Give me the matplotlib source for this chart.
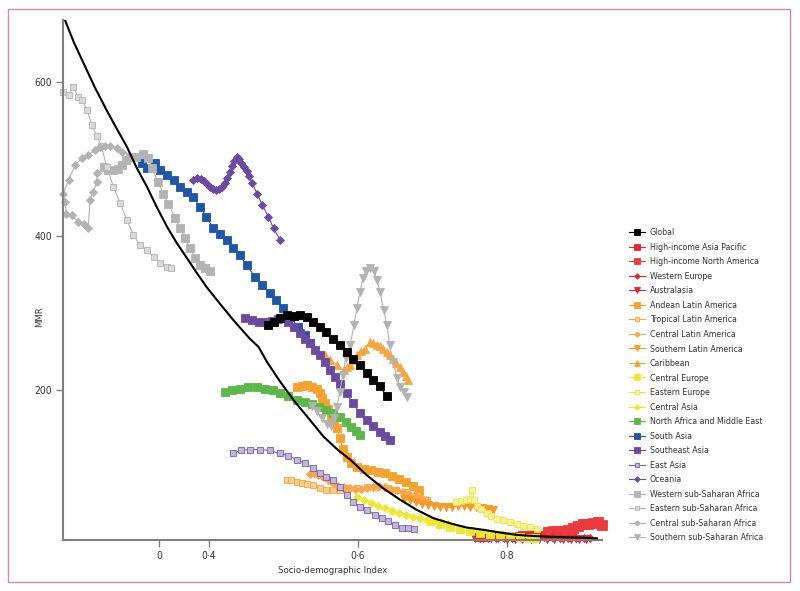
import matplotlib
matplotlib.use("Agg")
import matplotlib.pyplot as plt
from matplotlib.patches import Rectangle

plt.rcParams["font.family"] = ["DejaVu Sans"]
plt.rcParams["font.stretch"] = "condensed"

# expected MMR for a given SDI (black curve)
curve_sdi = [0.207, 0.219, 0.232, 0.247, 0.263, 0.276, 0.290, 0.303, 0.317, 0.330, 0.344,
             0.357, 0.371, 0.384, 0.397, 0.411, 0.422, 0.433, 0.444, 0.455, 0.467, 0.478,
             0.496, 0.514, 0.532, 0.554, 0.574, 0.590, 0.612, 0.634, 0.657, 0.679, 0.702,
             0.724, 0.746, 0.769, 0.791, 0.813, 0.836, 0.858, 0.881, 0.903, 0.921]
curve_mmr = [680, 651, 624, 593, 563, 540, 516, 489, 464, 438, 412,
             391, 371, 352, 334, 317, 304, 291, 279, 267, 256, 237,
             211, 187, 166, 140, 122, 110, 90, 73, 58, 45, 34,
             27.5, 22, 19, 15.5, 12.5, 11, 10, 9.3, 8.8, 8]

# regional trajectories, 1990-2015
global_sdi = [0.480, 0.487, 0.496, 0.505, 0.514, 0.523, 0.532, 0.540, 0.549, 0.558, 0.567,
              0.576, 0.585, 0.594, 0.603, 0.612, 0.621, 0.630, 0.639]
global_mmr = [284, 288, 293, 297, 296, 297, 295, 289, 282, 276, 267,
              259, 250, 241, 233, 222, 213, 205, 192]

hiap_sdi = [0.762, 0.771, 0.781, 0.792, 0.801, 0.811, 0.820, 0.830, 0.839, 0.849, 0.858,
            0.868, 0.877, 0.886]
hiap_mmr = [10, 10, 10.5, 11, 11, 11.5, 12, 12, 12.5, 12.5, 13, 13, 12.5, 12]

hina_sdi = [0.855, 0.862, 0.869, 0.876, 0.882, 0.889, 0.896, 0.902, 0.909, 0.916, 0.922, 0.928]
hina_mmr = [16, 17.5, 17.5, 17.5, 19, 21.5, 24, 26, 27, 28.5, 29, 25]

weur_sdi = [0.764, 0.775, 0.786, 0.796, 0.807, 0.818, 0.829, 0.839, 0.850, 0.861, 0.872,
            0.882, 0.893, 0.904, 0.912]
weur_mmr = [8.5, 8.5, 8.5, 9, 9, 9.5, 9.5, 9.5, 9.5, 9.5, 9, 9, 8.5, 8.5, 8.5]

aus_sdi = [0.757, 0.768, 0.779, 0.789, 0.800, 0.811, 0.821, 0.832, 0.843, 0.854, 0.864,
           0.875, 0.886, 0.897, 0.907]
aus_mmr = [8, 8, 8, 8, 7.5, 7.5, 7.5, 7.5, 7.5, 7.5, 7.5, 7.5, 7, 7, 7]

andean_sdi = [0.518, 0.525, 0.532, 0.538, 0.545, 0.549, 0.552, 0.556, 0.560, 0.564, 0.568,
              0.572, 0.576, 0.580, 0.586, 0.591, 0.599, 0.609, 0.618, 0.627, 0.637, 0.646,
              0.656, 0.665, 0.674, 0.682]
andean_mmr = [204, 205, 207, 204, 202, 196, 190, 183, 176, 167, 157,
              151, 138, 124, 113, 106, 100, 98, 96, 94, 93, 89,
              85, 81, 76, 71]

tropical_sdi = [0.505, 0.511, 0.518, 0.525, 0.532, 0.540, 0.549, 0.558, 0.567, 0.576, 0.585,
                0.599, 0.612, 0.626, 0.639, 0.652, 0.666, 0.679, 0.693]
tropical_mmr = [84, 83, 81, 80, 79, 77, 73, 71, 71, 71, 73,
                73, 75, 75, 73, 71, 68, 64, 58]

central_la_sdi = [0.536, 0.541, 0.547, 0.553, 0.560, 0.567, 0.574, 0.581, 0.589, 0.597, 0.605,
                  0.613, 0.621, 0.629, 0.637, 0.645, 0.653, 0.661, 0.669, 0.677, 0.685, 0.692]
central_la_mmr = [91, 93, 90, 87, 84, 80, 76, 74, 73, 72, 72,
                  73, 75, 76, 74, 72, 70, 68, 66, 64, 61, 58]

southern_la_sdi = [0.662, 0.670, 0.678, 0.686, 0.694, 0.702, 0.711, 0.719, 0.727, 0.735, 0.743,
                   0.751, 0.759, 0.767, 0.775, 0.782]
southern_la_mmr = [59, 58, 55, 52.5, 51, 50, 48.5, 48.5, 48.5, 50, 50,
                   48.5, 48.5, 47, 46, 44.5]

caribbean_sdi = [0.556, 0.563, 0.572, 0.581, 0.585, 0.590, 0.594, 0.599, 0.604, 0.610, 0.617,
                 0.621, 0.626, 0.630, 0.634, 0.639, 0.643, 0.647, 0.652, 0.657, 0.661, 0.665,
                 0.668]
caribbean_mmr = [246, 239, 233, 226, 230, 233, 239, 246, 251, 254, 263,
                 261, 259, 257, 254, 250, 246, 240, 235, 230, 224, 218,
                 213]

ceur_sdi = [0.697, 0.711, 0.724, 0.737, 0.751, 0.764, 0.778, 0.791, 0.804, 0.818, 0.831, 0.838]
ceur_mmr = [30.5, 26.5, 22.5, 20, 17.5, 15, 13.5, 12.5, 11, 9.5, 9, 8.5]

eeur_sdi = [0.732, 0.739, 0.746, 0.751, 0.754, 0.756, 0.760, 0.766, 0.773, 0.779, 0.787,
            0.795, 0.805, 0.814, 0.822, 0.831, 0.841]
eeur_mmr = [55, 56, 58, 59, 71, 58, 50, 46, 41, 37, 33,
            32, 29, 26.5, 24, 22.5, 20.5]

casia_sdi = [0.599, 0.609, 0.618, 0.627, 0.637, 0.646, 0.656, 0.665, 0.674, 0.684, 0.693,
             0.702, 0.712, 0.721]
casia_mmr = [62, 58, 54, 50, 47, 43, 41, 38, 35.5, 34.5, 32, 30.5, 29, 26.5]

name_sdi = [0.422, 0.431, 0.442, 0.453, 0.465, 0.476, 0.486, 0.496, 0.506, 0.519, 0.529,
            0.539, 0.548, 0.557, 0.567, 0.576, 0.584, 0.591, 0.598, 0.603]
name_mmr = [198, 200, 202, 204, 204, 202, 200, 197, 192, 187, 185,
            182, 178, 174, 170, 165, 159, 152, 147, 142]

sasia_sdi = [0.310, 0.317, 0.328, 0.335, 0.344, 0.353, 0.362, 0.371, 0.379, 0.388, 0.397,
             0.406, 0.415, 0.424, 0.433, 0.442, 0.451, 0.462, 0.471, 0.482, 0.491, 0.500,
             0.509, 0.520, 0.529, 0.536]
sasia_mmr = [494, 488, 495, 485, 479, 472, 464, 457, 451, 438, 425,
             410, 403, 395, 384, 375, 362, 347, 336, 326, 317, 306,
             295, 282, 272, 261]

seasia_sdi = [0.449, 0.458, 0.467, 0.476, 0.485, 0.493, 0.500, 0.507, 0.514, 0.523, 0.529,
              0.536, 0.543, 0.549, 0.556, 0.563, 0.570, 0.576, 0.585, 0.594, 0.603, 0.612,
              0.621, 0.630, 0.637, 0.643]
seasia_mmr = [293, 291, 289, 289, 290, 292, 293, 288, 282, 274, 267,
              261, 252, 246, 237, 226, 217, 208, 196, 183, 170, 161,
              153, 146, 140, 135]

easia_sdi = [0.433, 0.444, 0.455, 0.469, 0.482, 0.496, 0.507, 0.518, 0.529, 0.540, 0.549,
             0.558, 0.567, 0.576, 0.585, 0.594, 0.603, 0.612, 0.623, 0.632, 0.641, 0.650,
             0.659, 0.668, 0.675]
easia_mmr = [119, 122, 123, 123, 122, 118, 115, 110, 105, 99, 93,
             88, 84, 75, 64, 55, 49, 45, 38, 34, 30, 25,
             22, 21, 20]

oceania_sdi = [0.379, 0.384, 0.390, 0.394, 0.398, 0.402, 0.406, 0.410, 0.414, 0.418, 0.422,
               0.425, 0.429, 0.431, 0.434, 0.438, 0.441, 0.444, 0.447, 0.451, 0.454, 0.458,
               0.465, 0.472, 0.480, 0.487, 0.496]
oceania_mmr = [472, 475, 474, 471, 467, 464, 461, 460, 461, 463, 468,
               475, 483, 491, 497, 503, 500, 495, 489, 484, 478, 469,
               455, 440, 425, 410, 395]

wssa_sdi = [0.259, 0.265, 0.272, 0.278, 0.284, 0.289, 0.294, 0.303, 0.312, 0.319, 0.324,
            0.332, 0.339, 0.346, 0.355, 0.362, 0.368, 0.375, 0.382, 0.388, 0.395, 0.402]
wssa_mmr = [490, 485, 485, 487, 492, 498, 502, 503, 506, 501, 488,
            470, 455, 442, 423, 410, 397, 384, 371, 362, 358, 354]

essa_sdi = [0.205, 0.212, 0.218, 0.225, 0.230, 0.237, 0.243, 0.250, 0.256, 0.263, 0.272,
            0.281, 0.290, 0.299, 0.308, 0.317, 0.326, 0.335, 0.344, 0.350]
essa_mmr = [587, 583, 593, 580, 576, 563, 544, 529, 516, 490, 464,
            443, 421, 401, 388, 382, 373, 365, 360, 358]

cssa_sdi = [0.250, 0.250, 0.245, 0.241, 0.238, 0.232, 0.225, 0.216, 0.209, 0.207, 0.205,
            0.212, 0.221, 0.230, 0.238, 0.247, 0.254, 0.261, 0.268, 0.277, 0.283]
cssa_mmr = [481, 470, 457, 447, 410, 416, 418, 427, 429, 444, 455,
            473, 492, 501, 505, 511, 515, 517, 517, 514, 509]

sssa_sdi = [0.539, 0.545, 0.552, 0.559, 0.564, 0.568, 0.572, 0.576, 0.580, 0.584, 0.590,
            0.595, 0.599, 0.603, 0.607, 0.611, 0.617, 0.622, 0.626, 0.630, 0.635, 0.639,
            0.643, 0.647, 0.653, 0.657, 0.662, 0.666]
sssa_mmr = [180, 173, 164, 156, 154, 164, 178, 198, 220, 242, 259,
            285, 307, 327, 345, 355, 358, 355, 343, 327, 304, 285,
            259, 237, 216, 204, 198, 191]

red = "#e8272b"
orange = "#f7a12f"
yellow = "#efe72e"
green = "#5cb848"
blue = "#1f56a6"
purple = "#6a4ba1"
grey = "#b3b3b3"

# label, x, y, colour, marker, size, face colour
series = [
    ("Global", global_sdi, global_mmr, "black", "s", 6, None),
    ("High-income Asia Pacific", hiap_sdi, hiap_mmr, red, "s", 6, None),
    ("High-income North America", hina_sdi, hina_mmr, "#ec3a3e", "s", 6.5, None),
    ("Western Europe", weur_sdi, weur_mmr, red, "D", 4.3, None),
    ("Australasia", aus_sdi, aus_mmr, red, "v", 6, None),
    ("Andean Latin America", andean_sdi, andean_mmr, orange, "s", 6, None),
    ("Tropical Latin America", tropical_sdi, tropical_mmr, "#f6a23a", "s", 4.5, "#fbcf8e"),
    ("Central Latin America", central_la_sdi, central_la_mmr, "#f8a848", "D", 4.3, None),
    ("Southern Latin America", southern_la_sdi, southern_la_mmr, "#f69a2a", "v", 6, None),
    ("Caribbean", caribbean_sdi, caribbean_mmr, "#f6a540", "^", 6, None),
    ("Central Europe", ceur_sdi, ceur_mmr, yellow, "s", 6, None),
    ("Eastern Europe", eeur_sdi, eeur_mmr, "#ece63c", "s", 4.5, "#f6f29c"),
    ("Central Asia", casia_sdi, casia_mmr, yellow, "D", 4.3, None),
    ("North Africa and Middle East", name_sdi, name_mmr, green, "s", 6, None),
    ("South Asia", sasia_sdi, sasia_mmr, blue, "s", 6, None),
    ("Southeast Asia", seasia_sdi, seasia_mmr, purple, "s", 6, None),
    ("East Asia", easia_sdi, easia_mmr, "#7660ad", "s", 4.5, "#c2b5de"),
    ("Oceania", oceania_sdi, oceania_mmr, purple, "D", 4.3, None),
    ("Western sub-Saharan Africa", wssa_sdi, wssa_mmr, grey, "s", 6, None),
    ("Eastern sub-Saharan Africa", essa_sdi, essa_mmr, grey, "s", 4.5, "#dadada"),
    ("Central sub-Saharan Africa", cssa_sdi, cssa_mmr, grey, "D", 4.3, None),
    ("Southern sub-Saharan Africa", sssa_sdi, sssa_mmr, grey, "v", 6, None),
]

fig = plt.figure(figsize=(8, 5.91), dpi=100)
ax = fig.add_axes([0.0791, 0.0868, 0.673, 0.8794])

ax.plot(curve_sdi, curve_mmr, color="black", lw=1.5, zorder=4)

for label, xs, ys, col, mk, ms, face in series:
    z = 3 if label == "Global" else 2
    ax.plot(xs, ys, color=col, lw=0.8, marker=mk, ms=ms,
            markerfacecolor=face if face else col, markeredgecolor=col,
            markeredgewidth=0.6, label=label, clip_on=False, zorder=z)

ax.set_xlim(0.2048, 0.9275)
ax.set_ylim(6.2, 680)
ax.set_xticks([0.3333, 0.4, 0.6, 0.8])
ax.set_xticklabels(["0", "0·4", "0·6", "0·8"])
ax.set_yticks([200, 400, 600])

for side in ["top", "right"]:
    ax.spines[side].set_visible(False)
for side in ["left", "bottom"]:
    ax.spines[side].set_color("#808080")
    ax.spines[side].set_linewidth(1.5)
ax.tick_params(direction="out", length=5, width=1, color="#808080",
               labelsize=7.5, labelcolor="#333333", pad=3)

ax.set_xlabel("Socio-demographic Index", fontsize=6.8, color="#333333")
ax.set_ylabel("MMR", fontsize=6.8, color="#333333")
ax.yaxis.set_label_coords(-0.036, 0.43)
ax.xaxis.set_label_coords(0.5, -0.05)

leg = ax.legend(loc="upper left", bbox_to_anchor=(0.786, 0.6135),
                bbox_transform=fig.transFigure, frameon=False, fontsize=6.3,
                labelspacing=0.63, handlelength=1.85, handletextpad=0.55,
                borderpad=0, borderaxespad=0)
for t in leg.get_texts():
    t.set_color("#333333")
for h in leg.legend_handles:
    h.set_markersize(h.get_markersize() * 0.65)

fig.add_artist(Rectangle((0.01, 0.015), 0.978, 0.969, transform=fig.transFigure,
                         fill=False, edgecolor="#d88ca2", lw=1))

fig.savefig("out.png", dpi=100)
